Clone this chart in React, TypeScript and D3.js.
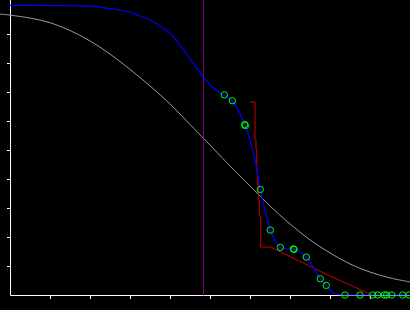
import React from "react";
import * as d3 from "d3";

const W = 410;
const H = 310;

// Axis ticks
const xTicks = [1, 2, 3, 4, 5, 6, 7, 8, 9];
const yTicks = [0.1, 0.2, 0.3, 0.4, 0.5, 0.6, 0.7, 0.8, 0.9];

// Gray reference curve
const grayX = [-0.25, 0, 0.5, 1, 1.5, 2, 2.5, 3, 3.5, 4, 4.5, 5, 5.5, 6, 6.5, 7, 7.5, 8, 8.5, 9, 9.5, 10];
const grayY = [0.969, 0.965, 0.955, 0.939, 0.912, 0.876, 0.831, 0.778, 0.721, 0.659, 0.588, 0.517, 0.445, 0.376, 0.307, 0.245, 0.190, 0.145, 0.107, 0.079, 0.059, 0.045];

// Blue smooth curve
const blueX = [0, 1, 1.825, 2.25, 2.625, 3, 3.25, 3.5, 3.75, 4, 4.25, 4.5, 4.75, 5.075, 5.35, 5.55, 5.7, 5.875, 6, 6.125, 6.2575, 6.375, 6.5075, 6.625, 6.7575, 6.925, 7.1, 7.25, 7.4075, 7.575, 7.7575, 7.9075, 8.075, 8.3, 10];
const blueY = [0.999, 0.998, 0.997, 0.993, 0.985, 0.976, 0.962, 0.948, 0.928, 0.903, 0.862, 0.814, 0.766, 0.714, 0.690, 0.669, 0.638, 0.586, 0.534, 0.466, 0.364, 0.293, 0.224, 0.190, 0.164, 0.159, 0.159, 0.148, 0.131, 0.097, 0.056, 0.033, 0.008, 0, 0];

// Red step line
const redX = [6.0, 6.125, 6.125, 6.15, 6.15, 6.1675, 6.1675, 6.1825, 6.1825, 6.2075, 6.2075, 6.2325, 6.2325, 6.2675, 6.2675, 6.5175, 7.175, 8.0, 9.05];
const redY = [0.6655, 0.6655, 0.5345, 0.5345, 0.5, 0.5, 0.431, 0.431, 0.379, 0.379, 0.3276, 0.3276, 0.2724, 0.2724, 0.1655, 0.1655, 0.1207, 0.0655, 0];

// Green observed points
const ptX = [5.3575, 5.5575, 5.865, 5.885, 6.2575, 6.5075, 6.7575, 7.085, 7.1, 7.4075, 7.7575, 7.9075, 8.375, 8.75, 9.0675, 9.1925, 9.3575, 9.4175, 9.5425, 9.8175, 9.975];
const ptY = [0.690, 0.670, 0.588, 0.584, 0.364, 0.224, 0.164, 0.159, 0.157, 0.131, 0.056, 0.033, 0, 0, 0, 0, 0, 0, 0, 0, 0];

// Vertical reference line
const vLineX = 4.825;

export default function App() {
  const x = d3.scaleLinear().domain([0, 10]).range([10, 410]);
  const y = d3.scaleLinear().domain([0, 1]).range([295, 5]);

  const grayPts: [number, number][] = grayX.map((v, i) => [x(v), y(grayY[i])]);
  const bluePts: [number, number][] = blueX.map((v, i) => [x(v), y(blueY[i])]);
  const redPts: [number, number][] = redX.map((v, i) => [x(v), y(redY[i])]);

  const smoothGray = d3.line().curve(d3.curveCatmullRom.alpha(0.5));
  const smooth = d3.line().curve(d3.curveMonotoneX);
  const straight = d3.line();

  const x0 = Math.round(x(0)) + 0.5;
  const y0 = Math.round(y(0)) + 0.5;
  const vx = Math.round(x(vLineX)) + 0.5;

  return (
    <svg
      width={W}
      height={H}
      style={{ position: "absolute", left: 0, top: 0, background: "#000", display: "block" }}
    >
      <rect x={0} y={0} width={W} height={H} fill="#000" />
      {/* axes */}
      <line x1={x0} x2={x0} y1={0} y2={y0} stroke="#fff" strokeWidth={1} />
      <line x1={x0} x2={W} y1={y0} y2={y0} stroke="#fff" strokeWidth={1} />
      {yTicks.map((t) => (
        <line key={"y" + t} x1={x0 - 3.5} x2={x0} y1={Math.round(y(t)) + 0.5} y2={Math.round(y(t)) + 0.5} stroke="#fff" strokeWidth={1} />
      ))}
      {xTicks.map((t) => (
        <line key={"x" + t} x1={Math.round(x(t)) + 0.5} x2={Math.round(x(t)) + 0.5} y1={y0} y2={y0 + 3.5} stroke="#fff" strokeWidth={1} />
      ))}
      {/* gray curve */}
      <path d={smoothGray(grayPts) || ""} fill="none" stroke="#9a9a9a" strokeWidth={1} />
      {/* vertical line */}
      <line x1={vx} x2={vx} y1={0} y2={y0} stroke="#800080" strokeWidth={1} />
      {/* red line */}
      <path d={straight(redPts) || ""} fill="none" stroke="#cc0000" strokeWidth={1} />
      {/* blue curve */}
      <path d={smooth(bluePts) || ""} fill="none" stroke="#0000ff" strokeWidth={1.2} />
      {/* points */}
      {ptX.map((v, i) => (
        <circle key={"p" + i} cx={x(v)} cy={y(ptY[i])} r={3.2} fill="none" stroke="#00ff00" strokeWidth={1} />
      ))}
    </svg>
  );
}
